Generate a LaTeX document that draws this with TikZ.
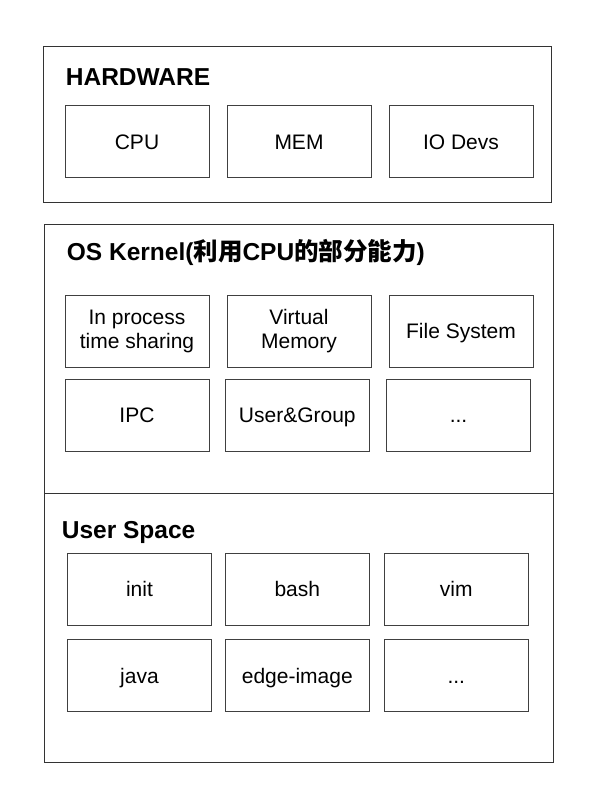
\documentclass[tikz,border=0pt]{standalone}
\usepackage{fontspec}
\setmainfont{Liberation Sans}
\newfontfamily\cjk{Noto Sans CJK SC}

\begin{document}
\begin{tikzpicture}[x=1pt, y=-1pt,
    layer/.style={draw=black!80, line width=0.8pt},
    part/.style={draw=black!75, line width=0.8pt, minimum width=144pt, minimum height=72pt,
      inner sep=0pt, align=center, text height=15pt, text depth=0pt,
      font=\fontsize{21}{24}\selectfont},
    twoline/.style={part, text height=, text depth=},
    title/.style={anchor=base west, inner sep=0pt, font=\fontsize{24.5}{28}\selectfont\bfseries}]
  \useasboundingbox (0,0) rectangle (602,800);

  \draw[layer] (43.5,46.7) rectangle (551,202.7);
  \draw[layer] (44,224.3) rectangle (553.3,493.3);
  \draw[layer] (44,493.3) rectangle (553.3,762.3);

  \node[title] (hwtitle) at (65.7,85.7) {HARDWARE};
  \node[part] (cpu) at (137,141.7) {CPU};
  \node[part] (mem) at (299,141.7) {MEM};
  \node[part] (iodevs) at (461,141.7) {IO Devs};

  \node[title] (ostitle) at (66.7,260) {OS Kernel({\cjk\bfseries 利用}CPU{\cjk\bfseries 的部分能力})};
  \node[twoline] (sched) at (137,331) {In process\\time sharing};
  \node[twoline] (vmem) at (299,331) {Virtual\\Memory};
  \node[part] (fs) at (461,331) {File System};
  \node[part] (ipc) at (137,415) {IPC};
  \node[part] (usergroup) at (297.3,415) {User\&Group};
  \node[part] (osmore) at (458.5,415) {...};

  \node[title] (ustitle) at (61.7,538.3) {User Space};
  \node[part] (init) at (139.5,589.3) {init};
  \node[part] (bash) at (297.3,589.3) {bash};
  \node[part] (vim) at (456.3,589.3) {vim};
  \node[part] (java) at (139.5,675.5) {java};
  \node[part] (edge) at (297.3,675.5) {edge-image};
  \node[part] (usmore) at (456.3,675.5) {...};
\end{tikzpicture}
\end{document}
